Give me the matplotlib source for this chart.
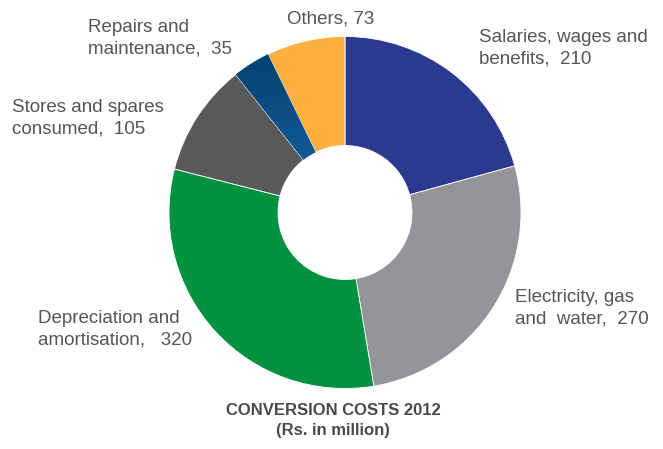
import numpy as np
import matplotlib.pyplot as plt
from matplotlib.colors import LinearSegmentedColormap

plt.rcParams['font.family'] = ['Liberation Sans', 'DejaVu Sans']

categories = ['Salaries, wages and\nbenefits', 'Electricity, gas\nand  water',
              'Depreciation and\namortisation', 'Stores and spares\nconsumed',
              'Repairs and\nmaintenance', 'Others']
values = [210, 270, 320, 105, 35, 73]
colors = ['#2b3990', '#939598', '#00923f', '#58595b', '#13568f', '#fbb040']

# label anchors in pixel coordinates (left edge, top)
label_pos = [(479, 29), (515, 289), (38, 310), (12, 99), (88, 19), (287, 10)]
seps = ['  ', '  ', '   ', '  ', '  ', ' ']

W, H = 663, 449
fig = plt.figure(figsize=(W / 100, H / 100), dpi=100)
ax = fig.add_axes([0, 0, 1, 1])

cx, cy, r = 345, H - 212.5, 176
wedges, _ = ax.pie(values, colors=colors, startangle=90, counterclock=False,
                   center=(cx, cy), radius=r, frame=True,
                   wedgeprops=dict(width=r - 67, edgecolor='white', linewidth=0.6))

# darker-to-lighter shading on the small blue slice
grad = np.linspace(0, 1, 256).reshape(-1, 1)
cmap = LinearSegmentedColormap.from_list('rep', ['#003c6a', '#1a67a6'])
img = ax.imshow(grad, cmap=cmap, extent=(cx - r, cx, cy, cy + r), origin='upper',
                aspect='auto', zorder=3)
img.set_clip_path(wedges[4])

txt = '#555555'
for cat, v, (px, py), s in zip(categories, values, label_pos, seps):
    ax.text(px, H - py, f'{cat},{s}{v}', ha='left', va='top', fontsize=13.5,
            color=txt, linespacing=1.36)

ax.text(333, H - 403, 'CONVERSION COSTS 2012\n(Rs. in million)', ha='center',
        va='top', fontsize=12, fontweight='bold', color='#4a4a4a', linespacing=1.45)

ax.set_xlim(0, W)
ax.set_ylim(0, H)
ax.set_aspect('auto')
ax.axis('off')

fig.savefig('out.png', dpi=100)
